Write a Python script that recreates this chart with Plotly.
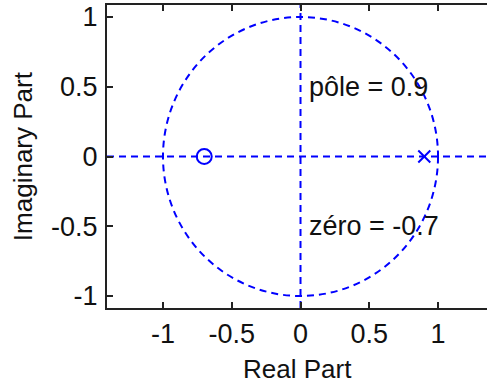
import plotly.graph_objects as go

# Data
zeros_re = [-0.7]
zeros_im = [0.0]
poles_re = [0.9]
poles_im = [0.0]
x_ticks = [-1, -0.5, 0, 0.5, 1]
x_tick_labels = ["-1", "-0.5", "0", "0.5", "1"]
y_ticks = [-1, -0.5, 0, 0.5, 1]
y_tick_labels = ["-1", "-0.5", "0", "0.5", "1"]
notes = ["pôle = 0.9", "zéro = -0.7"]
notes_x = [0.05, 0.05]
notes_y = [0.5, -0.5]

BLUE = "#0000ff"
FONT = dict(family="Liberation Sans, Arial, sans-serif", size=27, color="#111111")
TFONT = dict(family="Liberation Sans, Arial, sans-serif", size=26, color="#111111")
DASH = "7px,5px"

fig = go.Figure()

fig.add_trace(go.Scatter(x=zeros_re, y=zeros_im, mode="markers",
                         marker=dict(symbol="circle-open", size=15, color=BLUE,
                                     line=dict(width=2, color=BLUE)),
                         showlegend=False, hoverinfo="skip"))
fig.add_trace(go.Scatter(x=poles_re, y=poles_im, mode="markers",
                         marker=dict(symbol="x-thin-open", size=12, color=BLUE,
                                     line=dict(width=2, color=BLUE)),
                         showlegend=False, hoverinfo="skip"))

# unit circle and axes lines
fig.add_shape(type="circle", xref="x", yref="y", x0=-1, x1=1, y0=-1, y1=1,
              line=dict(color=BLUE, width=2, dash=DASH), layer="below")
fig.add_shape(type="line", xref="paper", yref="y", x0=0, x1=1, y0=0, y1=0,
              line=dict(color=BLUE, width=2, dash=DASH), layer="below")
fig.add_shape(type="line", xref="x", yref="paper", x0=0, x1=0, y0=0, y1=1,
              line=dict(color=BLUE, width=2, dash=DASH), layer="below")

for t, xx, yy in zip(notes, notes_x, notes_y):
    fig.add_annotation(x=xx, y=yy, xref="x", yref="y", text=t, showarrow=False,
                       xanchor="left", yanchor="middle", font=FONT)

fig.add_annotation(x=0.5, y=-0.201, xref="paper", yref="paper", text="Real Part",
                   showarrow=False, xanchor="center", yanchor="middle", font=TFONT)
fig.add_annotation(x=-0.222, y=0.5, xref="paper", yref="paper", text="Imaginary Part",
                   showarrow=False, xanchor="center", yanchor="middle", textangle=-90, font=TFONT)

fig.update_xaxes(range=[-1.407, 1.356], tickvals=x_ticks, ticktext=x_tick_labels,
                 ticks="inside", ticklen=6, tickwidth=2, tickcolor="#222222",
                 showline=True, linewidth=2, linecolor="#222222", mirror="ticks",
                 showgrid=False, zeroline=False, tickfont=FONT, ticklabelstandoff=1)
fig.update_yaxes(range=[-1.086, 1.086], tickvals=y_ticks, ticktext=y_tick_labels,
                 ticks="inside", ticklen=6, tickwidth=2, tickcolor="#222222",
                 showline=True, linewidth=2, linecolor="#222222", mirror=False,
                 showgrid=False, zeroline=False, tickfont=FONT, ticklabelstandoff=2)

fig.update_layout(width=487, height=387, margin=dict(l=107, r=0, t=5, b=79),
                  paper_bgcolor="white", plot_bgcolor="white", showlegend=False)

fig.write_html("out.html")
